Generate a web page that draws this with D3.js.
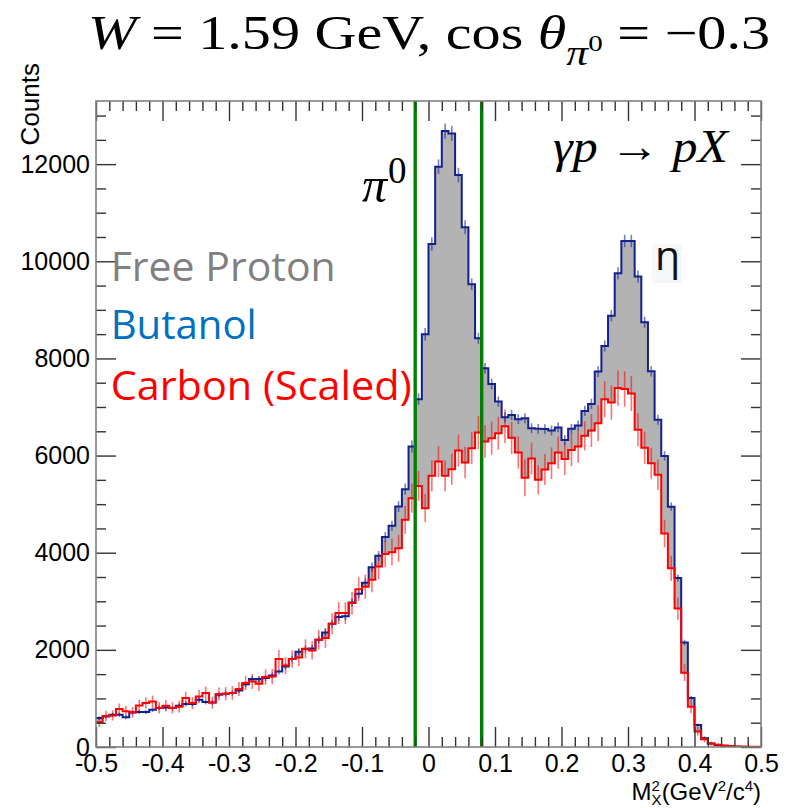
<!DOCTYPE html>
<html><head><meta charset="utf-8">
<script src="https://cdn.jsdelivr.net/npm/d3@7/dist/d3.min.js"></script>
<style>body{margin:0;background:#fff}svg{display:block}</style>
</head><body>
<svg id="c" width="793" height="808"></svg>
<script>
// ---- data (100 bins of 0.01 from -0.5 to 0.5) ----
const butanol = [597,630,665,665,610,712,720,720,767,802,
815,802,850,885,885,973,926,918,1076,1097,
1111,1165,1290,1399,1399,1420,1473,1556,1659,1810,
1960,2016,2030,2208,2359,2537,2675,2690,2975,3154,
3380,3700,3936,4321,4553,4951,5308,6185,7160,8497,
10356,11947,12681,12633,11776,10700,9527,8415,7798,7475,
7111,6790,6837,6749,6770,6563,6550,6545,6515,6580,
6323,6550,6618,6920,7064,7729,8257,8881,9753,10418,
10418,9686,8746,7735,6739,5993,4948,3480,2150,1010,
455,180,70,35,20,10,5,2,0,0];
const butanolErr = [40,40,42,42,40,43,43,43,45,46,
46,46,47,48,48,50,49,49,52,53,
53,55,57,60,60,60,61,63,65,68,
70,71,71,74,77,80,82,82,86,89,
92,96,99,104,107,111,115,124,120,130,
140,150,155,155,150,143,120,115,110,108,
105,103,104,103,103,101,101,101,101,102,
100,101,102,104,105,109,114,118,124,128,
128,123,116,110,102,96,87,73,58,40,
27,17,10,7,5,3,2,1,0,0];
const carbon = [510,640,650,780,735,715,855,905,935,805,
850,805,830,1008,905,1041,1111,915,1090,1097,
1111,1193,1316,1350,1302,1440,1450,1810,1680,1810,
1845,2023,1989,2208,2243,2537,2757,2757,2963,3250,
3300,3442,3716,3971,4012,4094,4677,5123,5376,4918,
5582,5877,5582,5720,6103,5857,6152,6473,6290,6358,
6461,6605,6365,6062,5545,5940,5500,5712,5843,6062,
5931,6117,6186,6406,6516,6667,7162,7093,7389,7370,
7280,6530,6160,5840,5605,4395,3680,2850,1530,830,
320,160,70,45,30,20,12,8,5,3];
const carbonErr = [100,105,105,115,110,110,120,120,125,115,
120,115,120,130,125,130,135,125,135,135,
140,145,150,155,150,160,160,185,175,180,
185,195,190,200,205,215,225,225,235,245,
250,255,260,270,270,275,290,300,310,290,
315,320,315,320,330,325,330,340,335,340,
340,345,335,330,380,330,300,320,325,330,
330,335,335,300,340,370,370,355,365,365,
360,340,330,320,315,285,260,230,175,135,
90,65,45,35,28,22,18,12,10,8];
const xTickValues = [-0.5,-0.4,-0.3,-0.2,-0.1,0,0.1,0.2,0.3,0.4,0.5];
const xTickLabels = ["-0.5","-0.4","-0.3","-0.2","-0.1","0","0.1","0.2","0.3","0.4","0.5"];
const yTickValues = [0,2000,4000,6000,8000,10000,12000];
const yTickLabels = ["0","2000","4000","6000","8000","10000","12000"];
const cutLines = [-0.02, 0.08];
const xDomain = [-0.5, 0.5];
const yDomain = [0, 13300];
const binWidth = 0.01;

// ---- layout ----
const L = 96, R = 761, T = 101, B = 747;
const svg = d3.select("#c");
const x = d3.scaleLinear().domain(xDomain).range([L, R]);
const y = d3.scaleLinear().domain(yDomain).range([B, T]);
const sans = "'Liberation Sans', Arial, sans-serif";
const serif = "'Liberation Serif', 'DejaVu Serif', serif";
const calibri = "'Open Sans', 'Noto Sans', sans-serif";

const lowEdge = i => xDomain[0] + i * binWidth;
function stepPts(vals) {
  const p = vals.map((v, i) => [lowEdge(i), v]);
  p.push([xDomain[1], vals[vals.length - 1]]);
  return p;
}
const line = d3.line().x(d => x(d[0])).y(d => y(d[1])).curve(d3.curveStepAfter);
const area = d3.area().x(d => x(d[0])).y0(y(0)).y1(d => y(d[1])).curve(d3.curveStepAfter);

svg.append("defs").append("clipPath").attr("id", "clip")
  .append("rect").attr("x", L).attr("y", T).attr("width", R - L).attr("height", B - T);
const g = svg.append("g").attr("clip-path", "url(#clip)");

// fills: butanol grey, carbon white on top -> grey = free proton
g.append("path").attr("d", area(stepPts(butanol))).attr("fill", "#b3b3b3");
g.append("path").attr("d", area(stepPts(carbon))).attr("fill", "#ffffff");

// error bars
function errBars(vals, errs, color, w) {
  g.append("g").selectAll("line").data(vals).join("line")
    .attr("x1", (v, i) => x(lowEdge(i) + binWidth / 2))
    .attr("x2", (v, i) => x(lowEdge(i) + binWidth / 2))
    .attr("y1", (v, i) => y(Math.max(0, v - errs[i])))
    .attr("y2", (v, i) => y(v + errs[i]))
    .attr("stroke", color).attr("stroke-width", w);
}
errBars(carbon, carbonErr, "rgba(255,0,0,0.55)", 1.6);
errBars(butanol, butanolErr, "rgba(30,40,150,0.6)", 1.6);

g.append("path").attr("d", line(stepPts(butanol))).attr("fill", "none")
  .attr("stroke", "#14208c").attr("stroke-width", 2);
g.append("path").attr("d", line(stepPts(carbon))).attr("fill", "none")
  .attr("stroke", "#ff0000").attr("stroke-width", 2);

// green cut lines
svg.append("g").selectAll("line").data(cutLines).join("line")
  .attr("x1", d => x(d)).attr("x2", d => x(d)).attr("y1", T).attr("y2", B)
  .attr("stroke", "#008000").attr("stroke-width", 3.4);

// ---- axes ----
const xMinor = x.ticks(50).filter(v => !xTickValues.some(m => Math.abs(m - v) < 1e-9));
const yMinor = y.ticks(26).filter(v => v % 2000 !== 0);
function styleAxis(sel) {
  sel.select(".domain").remove();
  sel.selectAll(".tick line").attr("stroke", "#333").attr("stroke-width", 1.4);
  sel.attr("font-family", sans).attr("font-size", 25);
  sel.selectAll(".tick text").attr("fill", "#000");
}
svg.append("g").attr("transform", `translate(0,${B})`)
  .call(d3.axisBottom(x).tickValues(xTickValues).tickSize(-20).tickPadding(7)
    .tickFormat((d, i) => xTickLabels[i])).call(styleAxis);
svg.append("g").attr("transform", `translate(0,${B})`)
  .call(d3.axisBottom(x).tickValues(xMinor).tickSize(-10).tickFormat("")).call(styleAxis);
svg.append("g").attr("transform", `translate(0,${T})`)
  .call(d3.axisTop(x).tickValues(xTickValues).tickSize(-20).tickFormat("")).call(styleAxis);
svg.append("g").attr("transform", `translate(0,${T})`)
  .call(d3.axisTop(x).tickValues(xMinor).tickSize(-10).tickFormat("")).call(styleAxis);
svg.append("g").attr("transform", `translate(${L},0)`)
  .call(d3.axisLeft(y).tickValues(yTickValues).tickSize(-20).tickPadding(6)
    .tickFormat((d, i) => yTickLabels[i])).call(styleAxis);
svg.append("g").attr("transform", `translate(${L},0)`)
  .call(d3.axisLeft(y).tickValues(yMinor).tickSize(-10).tickFormat("")).call(styleAxis);
svg.append("g").attr("transform", `translate(${R},0)`)
  .call(d3.axisRight(y).tickValues(yTickValues).tickSize(-20).tickFormat("")).call(styleAxis);
svg.append("g").attr("transform", `translate(${R},0)`)
  .call(d3.axisRight(y).tickValues(yMinor).tickSize(-10).tickFormat("")).call(styleAxis);

// frame
svg.append("rect").attr("x", L).attr("y", T).attr("width", R - L).attr("height", B - T)
  .attr("fill", "none").attr("stroke", "#808080").attr("stroke-width", 1.6);

// axis titles
svg.append("text").attr("transform", "translate(39,63) rotate(-90)")
  .attr("text-anchor", "end").attr("font-family", sans).attr("font-size", 26).text("Counts");
const xt = svg.append("text").attr("x", R).attr("y", 800).attr("text-anchor", "end")
  .attr("font-family", sans).attr("font-size", 24);
xt.append("tspan").text("M");
xt.append("tspan").attr("font-size", 15).attr("dy", 5).text("X");
xt.append("tspan").attr("font-size", 15).attr("dx", -10).attr("dy", -14).text("2");
xt.append("tspan").attr("dx", 1.7).attr("dy", 9).text("(GeV");
xt.append("tspan").attr("font-size", 15).attr("dy", -9).text("2");
xt.append("tspan").attr("dy", 9).text("/c");
xt.append("tspan").attr("font-size", 15).attr("dy", -9).text("4");
xt.append("tspan").attr("dy", 9).text(")");

// title
function fitWidth(sel, x0, w) {
  const bb = sel.node().getBBox();
  const s = w / bb.width;
  sel.attr("transform", `translate(${x0},0) scale(${s},1) translate(${-bb.x},0)`);
}
const title = svg.append("text").attr("x", 0).attr("y", 49)
  .attr("font-family", serif).attr("font-size", 48);
title.append("tspan").attr("font-style", "italic").text("W");
title.append("tspan").text(" = 1.59 GeV, cos ");
title.append("tspan").attr("font-style", "italic").text("θ");
title.append("tspan").attr("font-style", "italic").attr("font-size", 36).attr("dy", 16).text("π");
title.append("tspan").attr("font-size", 24).attr("dy", -14).text("0");
title.append("tspan").attr("dy", -2).text(" = −0.3");
fitWidth(title, 88, 682);

// reaction label
const rx = svg.append("text").attr("x", 0).attr("y", 162)
  .attr("font-family", serif).attr("font-size", 46);
rx.append("tspan").attr("font-style", "italic").text("γp");
rx.append("tspan").text(" → ");
rx.append("tspan").attr("font-style", "italic").text("pX");
fitWidth(rx, 553, 177);

// pi0 label
svg.append("text").attr("x", 362).attr("y", 201.5).attr("font-family", serif)
  .attr("font-style", "italic").attr("font-size", 50).text("π");
svg.append("text").attr("x", 388).attr("y", 182.5).attr("font-family", serif)
  .attr("font-size", 37).text("0");

// eta label
svg.append("rect").attr("x", 652).attr("y", 244).attr("width", 30).attr("height", 39).attr("fill", "#f5f7f9");
svg.append("text").attr("x", 655).attr("y", 270).attr("font-family", calibri)
  .attr("font-size", 41).attr("fill", "#111").text("η");

// legend texts
const legend = [
  {t: "Free Proton", c: "#808080", y: 280.7, w: 225},
  {t: "Butanol", c: "#0070c0", y: 339.3, w: 146},
  {t: "Carbon (Scaled)", c: "#ff0000", y: 400, w: 301}
];
legend.forEach(d => {
  svg.append("text").attr("x", 110.7).attr("y", d.y).attr("font-family", calibri)
    .attr("font-size", 41).attr("fill", d.c)
    .attr("textLength", d.w).attr("lengthAdjust", "spacingAndGlyphs").text(d.t);
});
</script>
</body></html>
